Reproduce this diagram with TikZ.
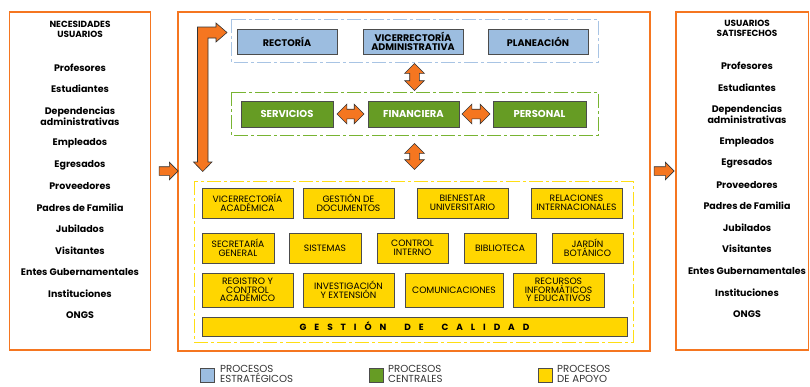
\documentclass[tikz,border=0pt]{standalone}
\usepackage{fontspec}
\setmainfont{Poppins}
\usetikzlibrary{shapes.arrows,calc,positioning}
\definecolor{naranja}{RGB}{245,118,32}
\definecolor{azul}{RGB}{156,189,224}
\definecolor{azulcl}{RGB}{168,196,228}
\definecolor{verde}{RGB}{102,156,36}
\definecolor{verdecl}{RGB}{120,180,50}
\definecolor{amarillo}{RGB}{255,214,0}
\definecolor{amarillocl}{RGB}{255,222,20}

\tikzset{
  marco/.style={draw=naranja, line width=1.3pt},
  grupo/.style={line width=1pt, dash pattern=on 14pt off 3pt on 3pt off 3pt},
  estrategico/.style={draw=black!70, fill=azul, minimum width=100pt, minimum height=25pt,
    inner sep=1pt, align=center, font=\fontsize{9.6}{9.6}\selectfont\bfseries},
  central/.style={draw=black!70, fill=verde, text=white, minimum width=92pt, minimum height=26pt,
    inner sep=1pt, align=center, font=\fontsize{10}{10}\selectfont\bfseries},
  apoyo/.style={draw=black!70, fill=amarillo, minimum width=#1, minimum height=30pt,
    inner sep=1pt, align=center, font=\fontsize{9.2}{8.6}\selectfont},
  usuario/.style={align=center, inner sep=0pt, font=\fontsize{9.5}{10}\selectfont\bfseries},
  titulo/.style={align=center, inner sep=0pt, font=\fontsize{8.9}{10}\selectfont\bfseries},
  flecha/.style={draw=black!80, fill=naranja, line width=0.6pt},
  dobleflecha/.style={flecha, double arrow, minimum height=27pt, minimum width=19pt,
    inner xsep=0pt, inner ysep=4.5pt, double arrow head extend=5pt},
  simpleflecha/.style={flecha, single arrow, minimum height=19pt, minimum width=17pt,
    inner xsep=0pt, inner ysep=4pt, single arrow head extend=4.5pt},
  leyenda/.style={align=left, anchor=west, inner sep=0pt, text=black!80,
    font=\fontsize{10.2}{9.4}\selectfont}
}

\begin{document}
\begin{tikzpicture}[x=1pt,y=-1pt]
\useasboundingbox (0,0) rectangle (810,386);

% marcos
\draw [marco] (9.5,12) rectangle (150.5,350);
\draw [marco] (178,12) rectangle (650,351);
\draw [marco] (676,12) rectangle (808.5,350);

% usuarios
\node[titulo] (nec) at (80,29.5) {NECESIDADES\\USUARIOS};
\foreach \t/\y [count=\i] in {Profesores/68, Estudiantes/89, {Dependencias\\administrativas}/116.5,
  Empleados/143, Egresados/165, Proveedores/186, Padres de Familia/208, Jubilados/229,
  Visitantes/251, Entes Gubernamentales/272, Instituciones/294, ONGS/315}
  \node[usuario] (nec\i) at (80,\y) {\t};

\node[titulo] (sat) at (747,28) {USUARIOS\\SATISFECHOS};
\foreach \t/\y [count=\i] in {Profesores/66, Estudiantes/88, {Dependencias\\administrativas}/114.5,
  Empleados/142, Egresados/163, Proveedores/185, Padres de Familia/206, Jubilados/228,
  Visitantes/249, Entes Gubernamentales/271, Instituciones/293, ONGS/314}
  \node[usuario] (sat\i) at (747,\y) {\t};

% grupos de procesos
\draw [grupo, draw=azulcl] (231,19) rectangle (598,62);
\draw [grupo, draw=verdecl] (231,92) rectangle (598,135);
\draw [grupo, draw=amarillocl] (194,181) rectangle (633,342);
\coordinate (est) at (414.5,62);
\coordinate (cenarriba) at (414.5,92);
\coordinate (cenabajo) at (414.5,135);
\coordinate (apo) at (414.5,178);

\node[estrategico] (rectoria) at (287,41.5) {RECTORÍA};
\node[estrategico] (vadmin) at (413,41.5) {VICERRECTORÍA\\ADMINISTRATIVA};
\node[estrategico] (planeacion) at (538,41.5) {PLANEACIÓN};

\node[central] (servicios) at (287,114) {SERVICIOS};
\node[central, minimum width=91pt] (financiera) at (413.5,114) {FINANCIERA};
\node[central, minimum width=93pt] (personal) at (539.5,114) {PERSONAL};

\node[apoyo=91pt] (vacad) at (247.5,203) {VICERRECTORÍA\\ACADÉMICA};
\node[apoyo=91pt] (gdoc) at (348.5,203) {GESTIÓN DE\\DOCUMENTOS};
\node[apoyo=91pt] (bien) at (462.5,203) {BIENESTAR\\UNIVERSITARIO};
\node[apoyo=91pt] (rel) at (576.5,203) {RELACIONES\\INTERNACIONALES};
\node[apoyo=72pt] (sgen) at (238,248) {SECRETARÍA\\GENERAL};
\node[apoyo=72pt] (sis) at (325,248) {SISTEMAS};
\node[apoyo=71pt] (cint) at (412.5,248) {CONTROL\\INTERNO};
\node[apoyo=72pt] (bib) at (500,248) {BIBLIOTECA};
\node[apoyo=71pt] (jard) at (587.5,248) {JARDÍN\\BOTÁNICO};
\node[apoyo=91pt, minimum height=34pt] (reg) at (247.5,290) {REGISTRO Y\\CONTROL\\ACADÉMICO};
\node[apoyo=91pt, minimum height=34pt] (inv) at (348.5,290) {INVESTIGACIÓN\\Y EXTENSIÓN};
\node[apoyo=98pt, minimum height=34pt] (com) at (454,290) {COMUNICACIONES};
\node[apoyo=91pt, minimum height=34pt] (rec) at (558.5,290) {RECURSOS\\INFORMÁTICOS\\Y EDUCATIVOS};
\node[apoyo=425pt, minimum height=19pt, font=\fontsize{9}{9}\selectfont\bfseries\addfontfeatures{LetterSpace=88}]
  (calidad) at (414.5,326.5) {GESTIÓN\hspace{18pt}DE\hspace{18pt}CALIDAD};

% flechas
\node[dobleflecha, rotate=90] (f1) at ($(est)!0.5!(cenarriba)$) {};
\node[dobleflecha, rotate=90, minimum height=26pt] (f2) at ($(cenabajo)!0.5!(apo)$) {};
\node[dobleflecha] (f3) at ($(servicios.east)!0.5!(financiera.west)$) {};
\node[dobleflecha, minimum height=28pt] (f4) at ($(financiera.east)!0.5!(personal.west)$) {};
\node[simpleflecha] (entrada) at (166.5,171) {};
\node[simpleflecha, minimum height=20pt] (salida) at (662,171) {};
\draw [flecha] (197.5,162) -- (197.5,27) -- (216,27) -- (216,23) -- (227,32.5) -- (216,42)
  -- (216,38) -- (208,38) -- (208,162) -- (212,162) -- (202.75,171.5) -- (193.5,162) -- cycle;

% leyenda
\node[draw=black!70, fill=azul, minimum size=14pt, inner sep=0pt] (lest) at (207,375) {};
\node[leyenda] (test) at (220,374) {PROCESOS\\ESTRATÉGICOS};
\node[draw=black!70, fill=verde, minimum size=14pt, inner sep=0pt] (lcen) at (376,375) {};
\node[leyenda] (tcen) at (388,374) {PROCESOS\\CENTRALES};
\node[draw=black!70, fill=amarillo, minimum size=14pt, inner sep=0pt] (lapo) at (545,375) {};
\node[leyenda] (tapo) at (557,374) {PROCESOS\\DE APOYO};
\end{tikzpicture}
\end{document}
